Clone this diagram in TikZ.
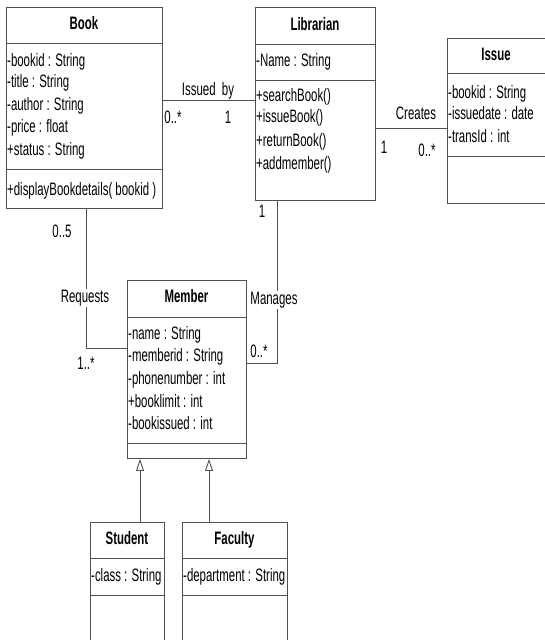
\documentclass[tikz,border=0pt]{standalone}
\usepackage{fontspec}
\setmainfont{Liberation Sans}[FakeStretch=0.635]
\usetikzlibrary{arrows.meta}
\definecolor{linec}{RGB}{80,80,80}
\begin{document}
\begin{tikzpicture}[x=1pt,y=-1pt,
  line/.style={draw=linec, line width=0.9pt},
  cls/.style={line, rectangle, inner sep=0, anchor=north west},
  txt/.style={anchor=base west, inner sep=0, font=\fontsize{18}{20}\selectfont},
  ttl/.style={anchor=base, inner sep=0, font=\fontsize{18}{20}\selectfont\bfseries},
  lbl/.style={anchor=base, inner sep=1pt, fill=white, font=\fontsize{18}{20}\selectfont},
  gen/.style={line, -{Triangle[open,length=12pt,width=8pt]}},
]
\useasboundingbox (0,0) rectangle (545,640);
\clip (0,0) rectangle (545,640);
\fill[white] (0,0) rectangle (545,640);

% ---------- Book ----------
\node[cls, minimum width=156pt, minimum height=201pt] (book) at (6,7) {};
\draw[line] (6,43) -- (162,43);
\draw[line] (6,169) -- (162,169);
\node[ttl] (bookT) at (84,29.5) {Book};
\node[txt] (b1) at (7,66.5) {-bookid : String};
\node[txt] (b2) at (7,87.5) {-title : String};
\node[txt] (b3) at (7,110.5) {-author : String};
\node[txt] (b4) at (7,132.5) {-price : float};
\node[txt] (b5) at (7,155.5) {+status : String};
\node[txt] (b6) at (7,195) {+displayBookdetails( bookid )};

% ---------- Librarian ----------
\node[cls, minimum width=120pt, minimum height=193pt] (lib) at (255,7) {};
\draw[line] (255,44) -- (375,44);
\draw[line] (255,80) -- (375,80);
\node[ttl] (libT) at (315,30) {Librarian};
\node[txt] (l1) at (256,66.5) {-Name : String};
\node[txt] (l2) at (256,101.5) {+searchBook()};
\node[txt] (l3) at (256,122.5) {+issueBook()};
\node[txt] (l4) at (256,146) {+returnBook()};
\node[txt] (l5) at (256,169) {+addmember()};

% ---------- Issue ----------
\node[cls, minimum width=100pt, minimum height=165pt] (issue) at (447,38) {};
\draw[line] (447,73) -- (547,73);
\draw[line] (447,156) -- (547,156);
\node[ttl] (issueT) at (496,60.5) {Issue};
\node[txt] (i1) at (448,98.5) {-bookid : String};
\node[txt] (i2) at (448,119.5) {-issuedate : date};
\node[txt] (i3) at (448,142) {-transId : int};

% ---------- Member ----------
\node[cls, minimum width=119pt, minimum height=178pt] (member) at (127,280) {};
\draw[line] (127,317) -- (246,317);
\draw[line] (127,443) -- (246,443);
\node[ttl] (memberT) at (186.5,302) {Member};
\node[txt] (m1) at (128,339.5) {-name : String};
\node[txt] (m2) at (128,361.5) {-memberid : String};
\node[txt] (m3) at (128,384.5) {-phonenumber : int};
\node[txt] (m4) at (128,407) {+booklimit : int};
\node[txt] (m5) at (128,429) {-bookissued : int};

% ---------- Student ----------
\node[cls, minimum width=74pt, minimum height=130pt] (student) at (90,522) {};
\draw[line] (90,558) -- (164,558);
\draw[line] (90,595) -- (164,595);
\node[ttl] (studentT) at (127,544) {Student};
\node[txt] (s1) at (91,581) {-class : String};

% ---------- Faculty ----------
\node[cls, minimum width=105pt, minimum height=130pt] (faculty) at (182,522) {};
\draw[line] (182,558) -- (287,558);
\draw[line] (182,595) -- (287,595);
\node[ttl] (facultyT) at (234.5,544) {Faculty};
\node[txt] (f1) at (183,581) {-department : String};

% ---------- Associations ----------
\draw[line] (book.east |- 0,100) -- (lib.west |- 0,100);
\node[lbl, fill=none] (issuedby) at (208,95) {Issued\ \ by};
\node[lbl, fill=none] (m01) at (173,123) {0..*};
\node[lbl, fill=none] (m02) at (228,123) {1};

\draw[line] (lib.east |- 0,128) -- (issue.west |- 0,128);
\node[lbl, fill=none] (creates) at (416,119) {Creates};
\node[lbl, fill=none] (m03) at (384,153) {1};
\node[lbl, fill=none] (m04) at (427,156) {0..*};

\draw[line] (book.south -| 86,0) |- (member.west |- 0,348);
\node[lbl] (requests) at (85,302) {Requests};
\node[lbl, fill=none] (m05) at (62,237) {0..5};
\node[lbl, fill=none] (m06) at (86,369) {1..*};

\draw[line] (lib.south -| 277,0) |- (member.east |- 0,363);
\node[lbl] (manages) at (274,304) {Manages};
\node[lbl, fill=none] (m07) at (262,217) {1};
\node[lbl, fill=none] (m08) at (259,357) {0..*};

% ---------- Generalizations ----------
\draw[gen] (student.north -| 140,0) -- (member.south -| 140,0);
\draw[gen] (faculty.north -| 209,0) -- (member.south -| 209,0);
\end{tikzpicture}
\end{document}
